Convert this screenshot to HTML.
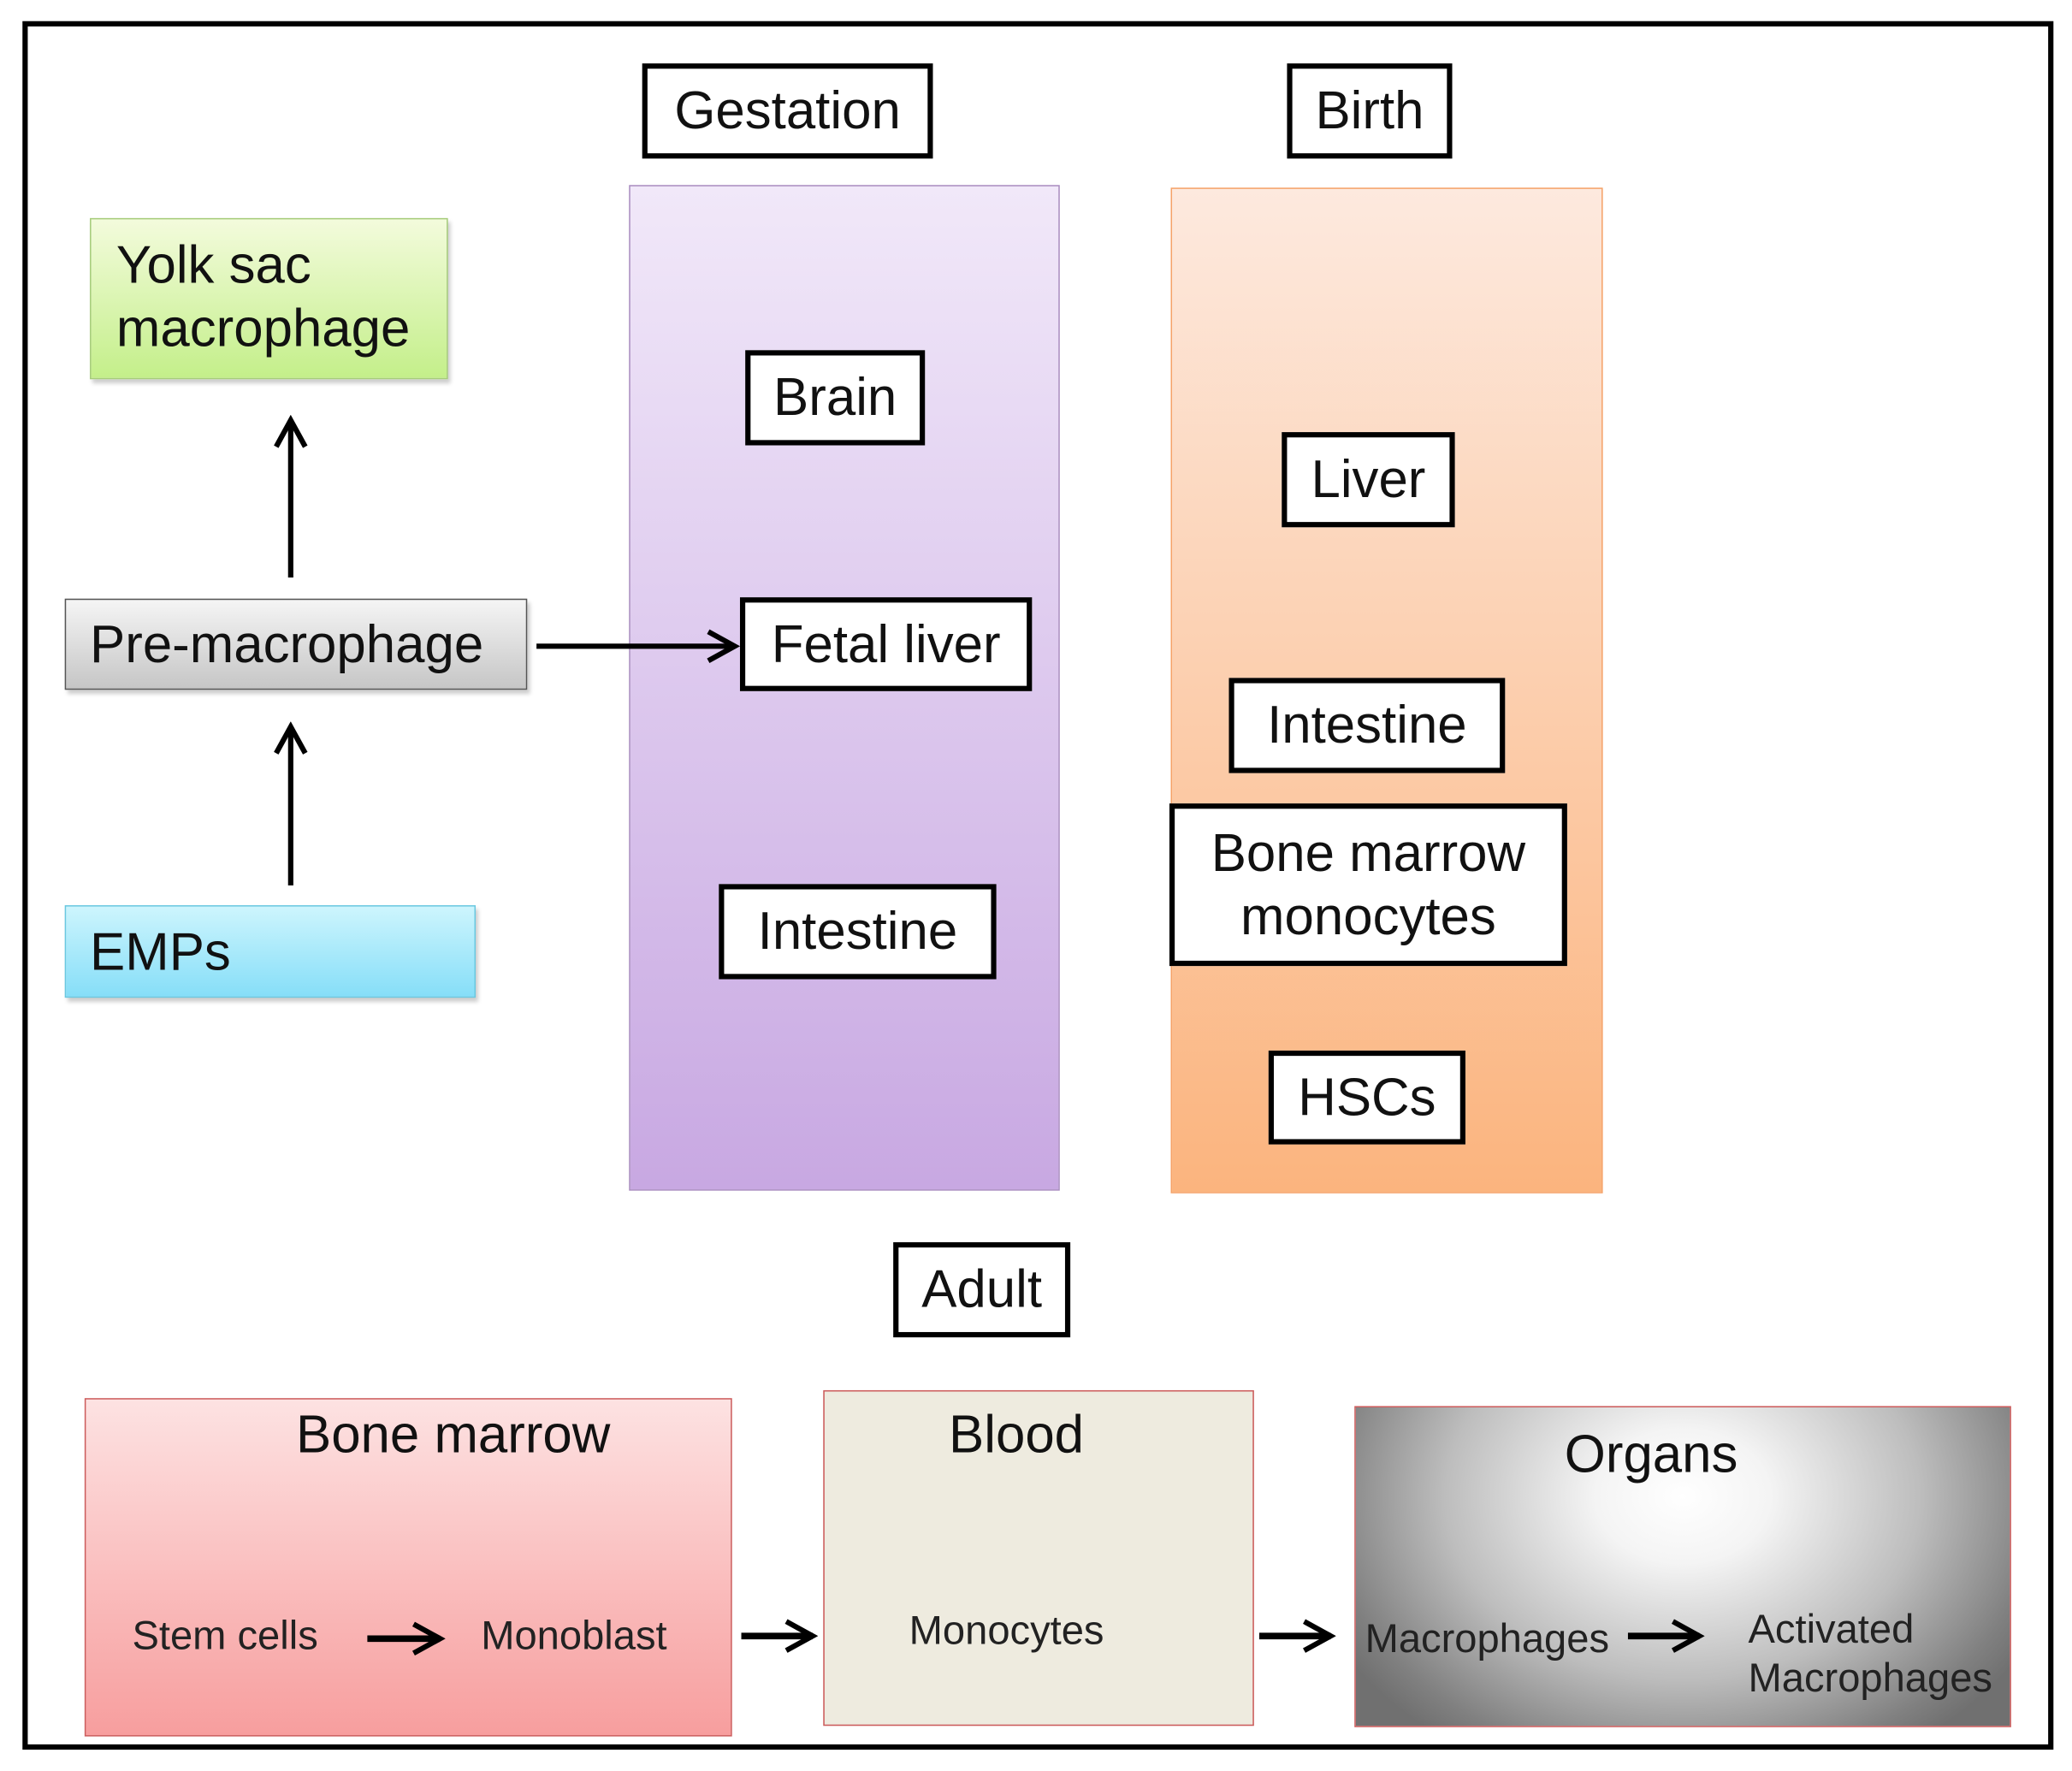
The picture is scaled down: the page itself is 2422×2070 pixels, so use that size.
<!DOCTYPE html>
<html><head><style>
html,body{margin:0;padding:0;background:#fff;}
body{width:2422px;height:2070px;overflow:hidden;position:relative;}
#s{position:absolute;left:0;top:0;width:1568px;height:1340px;transform:scale(1.5446);transform-origin:0 0;font-family:"Liberation Sans",sans-serif;color:#111;}
.a{position:absolute;box-sizing:border-box;}
.b{position:absolute;box-sizing:border-box;border:4px solid #000;background:#fff;font-size:40px;display:flex;align-items:center;justify-content:center;text-align:center;line-height:48px;white-space:nowrap;}
.t{position:absolute;white-space:nowrap;}
</style></head><body><div id="s">
<div class="a" style="left:17px;top:16px;width:1537px;height:1308px;border:4px solid #000"></div>

<div class="a" style="left:476px;top:140px;width:326px;height:761px;border:1.5px solid #a98cc0;background:linear-gradient(#f1e8f9,#c8a8e2)"></div>
<div class="a" style="left:886px;top:142px;width:327px;height:761px;border:1.5px solid #f5a268;background:linear-gradient(#fde9de,#fbb47e)"></div>

<div class="b" style="left:486px;top:48px;width:220px;height:72px">Gestation</div>
<div class="b" style="left:974px;top:48px;width:125px;height:72px">Birth</div>

<div class="a" style="left:68px;top:165px;width:271px;height:122px;border:1.5px solid #a6cc7a;background:linear-gradient(#f3fbdc,#c4ef8a);box-shadow:2px 3px 3px rgba(0,0,0,.2)"></div>
<div class="t" style="left:88px;top:177px;font-size:40px;line-height:48px">Yolk sac<br>macrophage</div>

<div class="a" style="left:49px;top:453px;width:350px;height:69px;border:1.5px solid #555;background:linear-gradient(#f5f5f5,#c6c6c6);box-shadow:2px 3px 3px rgba(0,0,0,.2)"></div>
<div class="t" style="left:68px;top:464px;font-size:40px;line-height:48px">Pre-macrophage</div>

<div class="a" style="left:49px;top:685px;width:311px;height:70px;border:1.5px solid #6ac8e0;background:linear-gradient(#cdf5fd,#86def8);box-shadow:2px 3px 3px rgba(0,0,0,.2)"></div>
<div class="t" style="left:68px;top:697px;font-size:40px;line-height:48px">EMPs</div>

<div class="b" style="left:564px;top:265px;width:136px;height:72px">Brain</div>
<div class="b" style="left:560px;top:452px;width:221px;height:71px">Fetal liver</div>
<div class="b" style="left:544px;top:669px;width:210px;height:72px">Intestine</div>

<div class="b" style="left:970px;top:327px;width:131px;height:72px">Liver</div>
<div class="b" style="left:930px;top:513px;width:209px;height:72px">Intestine</div>
<div class="b" style="left:885px;top:608px;width:301px;height:123px">Bone marrow<br>monocytes</div>
<div class="b" style="left:960px;top:795px;width:149px;height:71px">HSCs</div>

<div class="b" style="left:676px;top:940px;width:134px;height:72px">Adult</div>

<div class="a" style="left:64px;top:1058px;width:490px;height:256px;border:1.5px solid #cc5c5c;background:linear-gradient(#fde2e2,#f79e9e)"></div>
<div class="t" style="left:224px;top:1062px;font-size:40px;line-height:48px">Bone marrow</div>
<div class="t" style="left:100px;top:1220px;font-size:30.5px;line-height:36px;color:#222">Stem cells</div>
<div class="t" style="left:364px;top:1220px;font-size:30.5px;line-height:36px;color:#222">Monoblast</div>

<div class="a" style="left:623px;top:1052px;width:326px;height:254px;border:1.5px solid #cc5c5c;background:#eeebdf"></div>
<div class="t" style="left:718px;top:1062px;font-size:40px;line-height:48px">Blood</div>
<div class="t" style="left:688px;top:1216px;font-size:30.5px;line-height:36px;color:#222">Monocytes</div>

<div class="a" style="left:1025px;top:1064px;width:497px;height:243px;border:1.5px solid #cc5c5c;background:radial-gradient(ellipse 300px 230px at 50% 28%,#fff 0%,#f4f4f4 22%,#bdbdbd 60%,#808080 90%,#707070 100%)"></div>
<div class="t" style="left:1184px;top:1077px;font-size:40px;line-height:48px">Organs</div>
<div class="t" style="left:1033px;top:1222px;font-size:30.5px;line-height:36px;color:#222">Macrophages</div>
<div class="t" style="left:1323px;top:1215px;font-size:30.5px;line-height:37px;color:#222">Activated<br>Macrophages</div>

<svg class="a" style="left:0;top:0" width="1568" height="1340">
<defs>
<marker id="m2" markerWidth="26" markerHeight="26" refX="22" refY="13" orient="auto" markerUnits="userSpaceOnUse"><path d="M2,2 L22,13 L2,24" fill="none" stroke="#000" stroke-width="4"/></marker></defs>
<g stroke="#000" stroke-width="4" fill="none">
<line x1="220" y1="437" x2="220" y2="318" marker-end="url(#m2)"/>
<line x1="220" y1="670" x2="220" y2="550" marker-end="url(#m2)"/>
<line x1="406" y1="489" x2="556" y2="489" marker-end="url(#m2)"/>
</g>
<g stroke="#000" stroke-width="5" fill="none">
<line x1="278" y1="1240" x2="333" y2="1240" marker-end="url(#m2)"/>
<line x1="561" y1="1238" x2="615" y2="1238" marker-end="url(#m2)"/>
<line x1="953" y1="1238" x2="1007" y2="1238" marker-end="url(#m2)"/>
<line x1="1232" y1="1238" x2="1286" y2="1238" marker-end="url(#m2)"/>
</g>
</svg>
</div></body></html>
